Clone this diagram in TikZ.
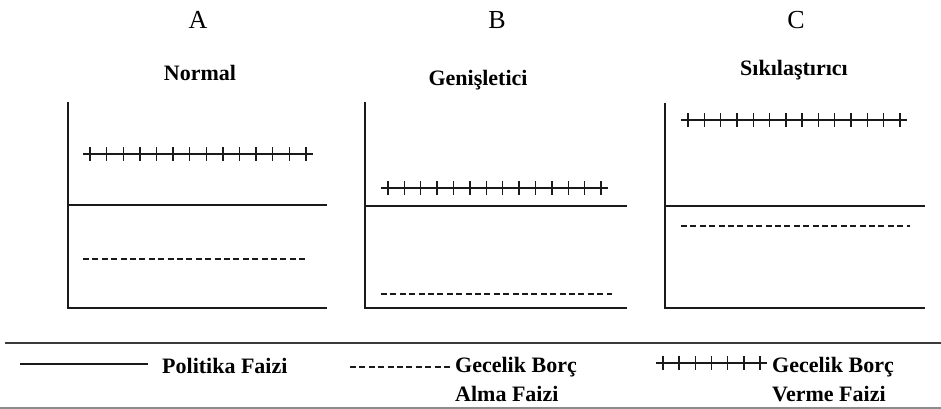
\documentclass[tikz,border=0pt]{standalone}
\usepackage{fontspec}
\setmainfont{Liberation Serif}
\usetikzlibrary{positioning}
\definecolor{mInk}{HTML}{1A1A1A}
\definecolor{mRule}{HTML}{3A3A3A}
\definecolor{mGray}{HTML}{8C8C8C}
\tikzset{
  axisline/.style={mInk, line width=1.8pt},
  rateline/.style={mInk, line width=1.8pt},
  lendline/.style={mInk, line width=1.4pt},
  borrowline/.style={mInk, line width=1.4pt, dash pattern=on 6pt off 3.4pt},
  letter/.style={font=\fontsize{26}{30}\selectfont, anchor=base, inner sep=0pt},
  regime/.style={font=\bfseries\fontsize{22}{26}\selectfont, anchor=base, inner sep=0pt},
  legtext/.style={font=\bfseries\fontsize{22}{29}\selectfont, anchor=base west,
                  inner sep=0pt, align=left},
}
% row of plus signs threaded on one line: x0, x1, y, count
\newcommand{\plusrow}[4]{%
  \draw[lendline] (#1,#3) -- (#2,#3);
  \pgfmathsetmacro{\pgap}{(#2-#1-14)/(#4-1)}
  \foreach \k in {1,...,#4}
    \draw[lendline] ({#1+7+(\k-1)*\pgap},{#3-7}) -- ++(0,14);
}

\begin{document}
\begin{tikzpicture}[x=1pt, y=-1pt]
  \useasboundingbox (0,0) rectangle (941,409);

  % panel titles
  \node[letter] (tA) at (198,29) {A};
  \node[letter] (tB) at (497,29) {B};
  \node[letter] (tC) at (796,29) {C};
  \node[regime] (nA) at (200,81) {Normal};
  \node[regime] (nB) at (478,86) {Genişletici};
  \node[regime] (nC) at (794,76) {Sıkılaştırıcı};

  % A: normal
  \draw[axisline] (68,102) -- (68,308) -- (327,308);
  \draw[rateline] (67,205) -- (327,205);
  \plusrow{83}{313}{154}{14}
  \draw[borrowline] (83,259) -- (305,259);

  % B: expansionary
  \draw[axisline] (365,102) -- (365,308) -- (627,308);
  \draw[rateline] (364,206) -- (627,206);
  \plusrow{381}{608}{188}{14}
  \draw[borrowline] (381,294) -- (612,294);

  % C: tightening
  \draw[axisline] (665,103) -- (665,308) -- (925,308);
  \draw[rateline] (664,206) -- (925,206);
  \plusrow{681}{907}{120}{14}
  \draw[borrowline] (681,226) -- (910,226);

  % legend
  \draw[mRule, line width=2.4pt] (5,343) -- (941,343);
  \draw[rateline] (20,364) -- (148,364);
  \node[legtext] (lP) at (162,373) {Politika Faizi};
  \draw[borrowline] (350,367) -- (453,367);
  \node[legtext] (lB) at (455,401) {Gecelik Borç\\Alma Faizi};
  \plusrow{656}{767}{363}{7}
  \node[legtext] (lL) at (772,401) {Gecelik Borç\\Verme Faizi};
  \draw[mGray, line width=1.6pt] (0,408) -- (941,408);
\end{tikzpicture}
\end{document}
